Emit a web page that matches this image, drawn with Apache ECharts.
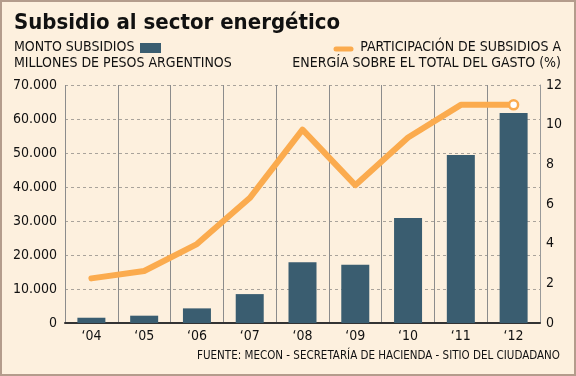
<!DOCTYPE html>
<html>
<head>
<meta charset="utf-8">
<script src="https://cdn.jsdelivr.net/npm/echarts@6/dist/echarts.min.js"></script>
<style>
  html, body { margin: 0; padding: 0; background: #fdf0de; }
  #chart { width: 576px; height: 376px; }
</style>
</head>
<body>
<div id="chart"></div>
<script>
// data
const years = ['‘04', '‘05', '‘06', '‘07', '‘08', '‘09', '‘10', '‘11', '‘12'];
const montoSubsidios = [1550, 2150, 4300, 8500, 17900, 17100, 30900, 49400, 61800];
const participacion = [2.25, 2.62, 3.98, 6.3, 9.75, 6.95, 9.35, 11.0, 11.0];

const FONT = '"DejaVu Sans Condensed", "DejaVu Sans", sans-serif';
const BAR = '#3a5d70';
const ORANGE = '#fbab4e';

const chart = echarts.init(document.getElementById('chart'));

chart.setOption({
  backgroundColor: '#fdf0de',
  animation: false,
  textStyle: { fontFamily: FONT },
  grid: { left: 65, right: 36, top: 85, bottom: 53 },
  xAxis: {
    type: 'category',
    data: years,
    axisLine: { lineStyle: { color: '#333', width: 2 } },
    axisTick: { show: false },
    axisLabel: { color: '#111', fontSize: 14, margin: 6, fontFamily: FONT },
    splitLine: { show: true, lineStyle: { color: '#8c8c8c', width: 1 } }
  },
  yAxis: [
    {
      type: 'value',
      min: 0, max: 70000, interval: 10000,
      axisLine: { show: false },
      axisTick: { show: false },
      axisLabel: {
        color: '#111', fontSize: 14, margin: 8, fontFamily: FONT,
        formatter: v => v === 0 ? '0' : String(v).replace(/\B(?=(\d{3})+(?!\d))/g, '.')
      },
      splitLine: { lineStyle: { color: '#a9a39b', type: [3, 3], width: 1 } }
    },
    {
      type: 'value',
      min: 0, max: 12, interval: 2,
      axisLine: { show: true, lineStyle: { color: '#999', width: 1 } },
      axisTick: { show: false },
      axisLabel: { color: '#111', fontSize: 14, margin: 6, fontFamily: FONT },
      splitLine: { show: false }
    }
  ],
  series: [
    {
      type: 'bar',
      data: montoSubsidios,
      barWidth: 28,
      itemStyle: { color: BAR },
      z: 2
    },
    {
      type: 'line',
      yAxisIndex: 1,
      data: participacion.map((v, i) => i === participacion.length - 1
        ? { value: v, symbol: 'circle', symbolSize: 9 }
        : { value: v, symbol: 'none' }),
      lineStyle: { color: ORANGE, width: 6, cap: 'round', join: 'round' },
      itemStyle: { color: '#fff', borderColor: ORANGE, borderWidth: 2.5 },
      showSymbol: true,
      z: 3
    }
  ],
  graphic: [
    {
      type: 'rect', z: 10, silent: true,
      shape: { x: 1, y: 1, width: 574, height: 374 },
      style: { fill: 'none', stroke: '#b49c8c', lineWidth: 2 }
    },
    {
      type: 'text', left: 14, top: 12,
      style: { text: 'Subsidio al sector energético', font: 'bold 22px ' + FONT, fill: '#111' }
    },
    {
      type: 'text', left: 14, top: 40,
      style: { text: 'MONTO SUBSIDIOS', font: '14px ' + FONT, fill: '#111' }
    },
    {
      type: 'rect', shape: { x: 140, y: 43, width: 21, height: 10 },
      style: { fill: BAR }
    },
    {
      type: 'text', left: 14, top: 56,
      style: { text: 'MILLONES DE PESOS ARGENTINOS', font: '14px ' + FONT, fill: '#111' }
    },
    {
      type: 'line', shape: { x1: 336, y1: 49, x2: 351, y2: 49 },
      style: { stroke: ORANGE, lineWidth: 5, lineCap: 'round' }
    },
    {
      type: 'text', right: 15, top: 40,
      style: { text: 'PARTICIPACIÓN DE SUBSIDIOS A', font: '14px ' + FONT, fill: '#111' }
    },
    {
      type: 'text', right: 15, top: 56,
      style: { text: 'ENERGÍA SOBRE EL TOTAL DEL GASTO (%)', font: '14px ' + FONT, fill: '#111' }
    },
    {
      type: 'text', right: 16, top: 350,
      style: { text: 'FUENTE: MECON - SECRETARÍA DE HACIENDA - SITIO DEL CIUDADANO', font: '11.5px ' + FONT, fill: '#111' }
    }
  ]
});
</script>
</body>
</html>
